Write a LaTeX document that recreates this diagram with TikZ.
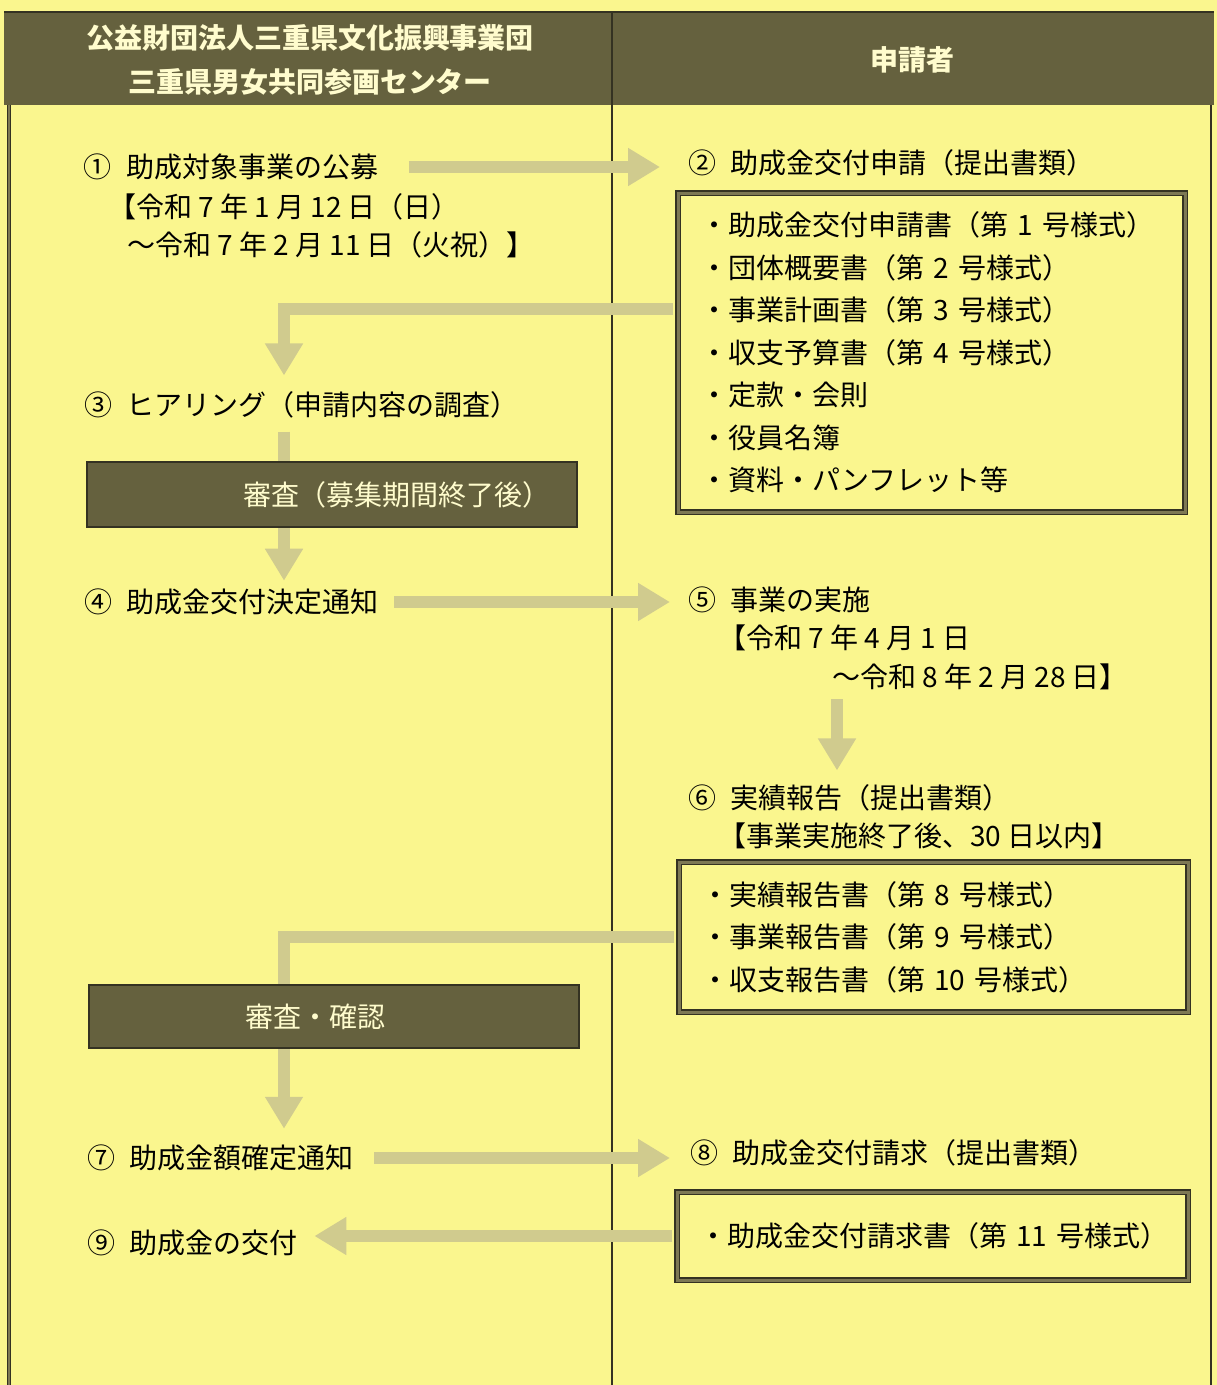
\documentclass[tikz,border=0pt]{standalone}
\usepackage{fontspec}
\newfontfamily\jp{Noto Sans CJK JP}
\usetikzlibrary{positioning}
\usetikzlibrary{arrows.meta}

\definecolor{paper}{RGB}{250,246,142}
\definecolor{darkc}{RGB}{101,97,62}
\definecolor{hilite}{RGB}{255,252,205}
\definecolor{flowc}{RGB}{208,203,142}
\definecolor{framec}{RGB}{52,50,34}
\definecolor{midc}{RGB}{125,120,84}

\tikzset{
  txt/.style={anchor=west, inner sep=0pt, font=\jp\fontsize{28}{42}\selectfont},
  hdrtxt/.style={inner sep=0pt, text=hilite, align=center, font=\jp\bfseries\fontsize{28}{44}\selectfont},
  darkbox/.style={fill=darkc, draw=framec, line width=1.2pt, text=hilite, inner xsep=0pt, align=left, font=\jp\fontsize{28}{42}\selectfont},
  docbox/.style={draw=framec, line width=1.4pt, double=midc, double distance=3pt, fill=paper, inner xsep=22pt, inner ysep=0pt, align=left, font=\jp\fontsize{28}{42.5}\selectfont},
  flow/.style={draw=flowc, line width=12pt, -{Triangle[width=36pt,length=32pt]}},
  rule/.style={draw=framec, line width=1.2pt}
}

\begin{document}
\begin{tikzpicture}[x=1pt, y=-1pt]
  \useasboundingbox (0,0) rectangle (1217,1385);
  \fill[paper] (0,0) rectangle (1217,1385);

  % header band and columns
  \fill[darkc] (4,12) rectangle (1214,105);
  \draw[rule] (4,12) -- (1214,12);
  \draw[rule] (612,12) -- (612,1385);
  \draw[framec, line width=1.3pt, double=midc, double distance=1.6pt] (9,105) -- (9,1385);
  \draw[rule] (1211,105) -- (1211,1385);
  \node[hdrtxt] (org) at (310,60) {公益財団法人三重県文化振興事業団\\三重県男女共同参画センター};
  \node[hdrtxt] (applicant) at (912,60) {申請者};

  % left column
  \node[txt] (pub) at (83,167) {①\hspace{0.55em}助成対象事業の公募};
  \node[txt] (pubfrom) at (108,207) {【令和 7 年 1 月 12 日（日）};
  \node[txt] (pubto) at (127,245) {～令和 7 年 2 月 11 日（火祝）】};
  \node[txt] (hear) at (84,405) {③\hspace{0.5em}ヒアリング（申請内容の調査）};
  \node[txt] (notify) at (84,602) {④\hspace{0.5em}助成金交付決定通知};
  \node[txt] (fix) at (87,1158) {⑦\hspace{0.5em}助成金額確定通知};
  \node[txt] (pay) at (87,1243) {⑨\hspace{0.5em}助成金の交付};

  % right column
  \node[txt] (apply) at (688,163) {②\hspace{0.5em}助成金交付申請（提出書類）};
  \node[docbox, text width=463pt, minimum height=319pt] (docsA) at (931.5,352.5)
    {・助成金交付申請書（第~1~号様式）\\・団体概要書（第~2~号様式）\\・事業計画書（第~3~号様式）\\・収支予算書（第~4~号様式）\\・定款・会則\\・役員名簿\\・資料・パンフレット等};
  \node[txt] (impl) at (688,600) {⑤\hspace{0.5em}事業の実施};
  \node[txt] (implfrom) at (718,638) {【令和 7 年 4 月 1 日};
  \node[txt] (implto) at (832,677) {～令和 8 年 2 月 28 日】};
  \node[txt] (report) at (688,798) {⑥\hspace{0.5em}実績報告（提出書類）};
  \node[txt] (reportdue) at (718,836) {【事業実施終了後、30 日以内】};
  \node[docbox, text width=465pt, minimum height=150pt] (docsB) at (933.5,937)
    {・実績報告書（第~8~号様式）\\・事業報告書（第~9~号様式）\\・収支報告書（第~10~号様式）};
  \node[txt] (claim) at (690,1153) {⑧\hspace{0.5em}助成金交付請求（提出書類）};
  \node[docbox, text width=467pt, minimum height=88pt] (docsC) at (932.5,1236)
    {\mbox{・助成金交付請求書（第~11~号様式）}};

  % flow arrows
  \coordinate (axisL) at (284,0);
  \coordinate (axisR) at (837,0);
  \draw[flow, shorten <=30pt, shorten >=28pt] (pub.east) -- (pub.east -| apply.west);
  \draw[flow, shorten <=4pt, shorten >=16pt] ([yshift=44pt]docsA.west) -| (hear.north -| axisL);
  \draw[flow, shorten <=13pt, shorten >=8pt] (hear.south -| axisL) -- (notify.north -| axisL);
  \draw[flow, shorten <=16pt, shorten >=18pt] (notify.east) -- (notify.east -| impl.west);
  \draw[flow, shorten <=9pt, shorten >=14pt] (implto.south -| axisR) -- (report.north -| axisR);
  \draw[flow, shorten <=4pt, shorten >=16pt] (docsB.west) -| (fix.north -| axisL);
  \draw[flow, shorten <=21pt, shorten >=20pt] (fix.east) -- (fix.east -| claim.west);
  \draw[flow, shorten <=4pt, shorten >=17pt] (docsC.west) -- (docsC.west -| pay.east);

  % review boxes over the arrows
  \node[darkbox, text width=490pt, minimum height=65pt] (review) at (332,494.5) {\hspace*{156pt}審査（募集期間終了後）};
  \node[darkbox, text width=490pt, minimum height=63pt] (check) at (334,1016.5) {\hspace*{156pt}審査・確認};
\end{tikzpicture}
\end{document}
